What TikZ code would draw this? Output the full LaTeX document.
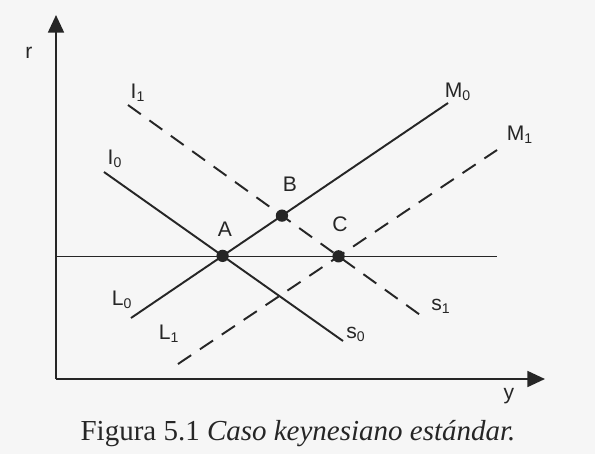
\documentclass[tikz,border=0pt]{standalone}
\usepackage{fontspec}
\setmainfont{Liberation Serif}
\newfontfamily\labelfont{Liberation Sans}
\usetikzlibrary{arrows.meta}

\tikzset{
  curve/.style={line width=1.1pt, draw=black!85},
  shiftcurve/.style={curve, dash pattern=on 9pt off 6pt},
  axis/.style={line width=1.3pt, draw=black!85, -{Triangle[length=10pt, width=9pt]}},
  dot/.style={circle, fill=black!85, inner sep=0pt, minimum size=7pt},
  lbl/.style={font=\labelfont\fontsize{12}{14}\selectfont, inner sep=1pt, text=black!85}
}

\begin{document}
\begin{tikzpicture}[x=0.02cm, y=-0.02cm]
  % Background and bounding box
  \fill[gray!7] (0,0) rectangle (595,454);

  % Axes
  \coordinate (O) at (56,379);
  \coordinate (rtop) at (56,15);
  \coordinate (yend) at (545,379);
  \draw[axis] (O) -- (rtop);
  \draw[axis] (O) -- (yend);
  \node[lbl] (r) at (29,53) {r};
  \node[lbl] (y) at (509,396) {y};

  % Horizontal line
  \coordinate (h0) at (56,256.5);
  \coordinate (h1) at (497,256.5);
  \draw[curve] (h0) -- (h1);

  % IS and LM curves
  \coordinate (I0) at (104,172);
  \coordinate (s0) at (343,341);
  \coordinate (I1) at (128,105);
  \coordinate (s1) at (423,317);
  \coordinate (L0) at (131,318);
  \coordinate (M0) at (448,103);
  \coordinate (L1) at (178,364);
  \coordinate (M1) at (497,150);
  \draw[curve] (I0) -- (s0);
  \draw[shiftcurve] (I1) -- (s1);
  \draw[curve] (L0) -- (M0);
  \draw[shiftcurve] (L1) -- (M1);

  % Equilibria
  \node[dot] (A) at (intersection of I0--s0 and L0--M0) {};
  \node[dot] (B) at (intersection of I1--s1 and L0--M0) {};
  \node[dot] (C) at (intersection of I1--s1 and L1--M1) {};

  % Labels
  \node[lbl] (lA) at (225,229) {A};
  \node[lbl] (lB) at (290,184) {B};
  \node[lbl] (lC) at (340,224) {C};
  \node[lbl] (lI0) at (115,159) {I\textsubscript{0}};
  \node[lbl] (lI1) at (138,93) {I\textsubscript{1}};
  \node[lbl] (lM0) at (458,92) {M\textsubscript{0}};
  \node[lbl] (lM1) at (520,135) {M\textsubscript{1}};
  \node[lbl] (lL0) at (122,300) {L\textsubscript{0}};
  \node[lbl] (lL1) at (169,334) {L\textsubscript{1}};
  \node[lbl] (ls0) at (356,334) {s\textsubscript{0}};
  \node[lbl] (ls1) at (441,306) {s\textsubscript{1}};

  % Caption
  \node[anchor=base, font=\fontsize{16.5}{19}\selectfont, text=black!85] (cap) at (298,440)
    {Figura 5.1 \textit{Caso keynesiano estándar.}};
\end{tikzpicture}
\end{document}
